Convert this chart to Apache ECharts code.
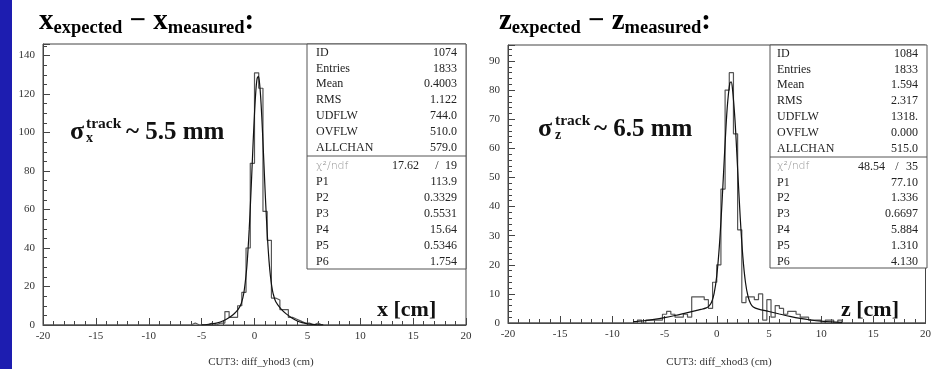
<!DOCTYPE html>
<html><head><meta charset="utf-8">
<script src="https://cdn.jsdelivr.net/npm/echarts@6/dist/echarts.min.js"></script>
<style>html,body{margin:0;padding:0;background:#fff}#c{width:934px;height:369px}</style>
</head><body><div id="c"></div>
<script>
// ---------------- data ----------------
// histogram bins: 100 bins of 0.4 cm from -20 to 20 (lower edges)
const binEdges = Array.from({length: 101}, (_, i) => +(-20 + 0.4 * i).toFixed(1));
const countsX = [
  0,0,0,0,0,0,0,0,0,0,
  0,0,0,0,0,0,0,0,0,0,
  0,0,0,0,0,0,0,0,0,0,
  0,0,0,0,0,1,0,0,0,1,
  0,1,1,7,4,4,10,17,40,84,
  131,123,59,44,14,13,8,8,4,3,
  2,1,1,0,1,0,0,0,0,0,
  0,0,0,0,0,0,0,0,0,0,
  0,0,0,0,0,0,0,0,0,0,
  0,0,0,0,0,0,0,0,0,0
];
const countsZ = [
  0,0,0,0,0,0,0,0,0,0,
  0,0,0,0,0,0,0,0,0,0,
  0,0,0,0,0,0,0,0,0,0,
  0,1,0,1,1,1,1,3,4,3,
  2,2,3,2,9,9,9,8,5,14,
  20,46,80,86,65,32,7,9,9,8,
  10,1,8,2,6,5,3,4,4,3,
  2,2,1,1,1,0,1,1,0,1,
  0,0,0,0,0,0,0,0,0,0,
  0,0,0,0,0,0,0,0,0,0
];
// fitted curves
const fitXx = [-5,-4.5,-4,-3.5,-3,-2.5,-2,-1.75,-1.5,-1.25,-1,-0.75,-0.625,-0.5,-0.375,-0.25,-0.125,0,0.125,0.25,0.375,0.5,0.625,0.75,0.875,1,1.125,1.25,1.375,1.5,1.625,1.75,2,2.5,3,3.5,4,4.5,5,5.5,6,6.5];
const fitXy = [0.11,0.25,0.55,1.11,2.05,3.5,5.5,6.8,8.5,11.2,16.9,28.7,38.0,49.8,63.9,79.5,95.4,109.9,121.4,128.1,129.2,124.4,114.7,101.2,85.9,70.1,55.7,43.2,33.2,25.7,20.3,16.6,12.2,8.4,5.8,3.8,2.2,1.2,0.6,0.28,0.12,0.05];
const fitZx = [-8,-7,-6,-5,-4,-3,-2,-1.5,-1,-0.75,-0.5,-0.25,0,0.25,0.5,0.75,1,1.25,1.375,1.5,1.75,2,2.25,2.5,2.75,3,3.25,3.5,4,5,6,7,8,9,10,11,12];
const fitZy = [0.46,0.78,1.23,1.83,2.57,3.41,4.27,4.67,5.2,5.8,7.1,10.2,16.2,26.4,41.1,58.4,73.8,82.4,82.8,80.7,69.6,53.0,36.2,22.8,14.0,9.1,6.6,5.5,4.76,3.95,3.09,2.28,1.58,1.04,0.64,0.38,0.21];
// statistics boxes
const statsX = [['ID','1074'],['Entries','1833'],['Mean','0.4003'],['RMS','1.122'],['UDFLW','744.0'],['OVFLW','510.0'],['ALLCHAN','579.0']];
const chiX = ['17.62','19'];
const parsX = [['P1','113.9'],['P2','0.3329'],['P3','0.5531'],['P4','15.64'],['P5','0.5346'],['P6','1.754']];
const statsZ = [['ID','1084'],['Entries','1833'],['Mean','1.594'],['RMS','2.317'],['UDFLW','1318.'],['OVFLW','0.000'],['ALLCHAN','515.0']];
const chiZ = ['48.54','35'];
const parsZ = [['P1','77.10'],['P2','1.336'],['P3','0.6697'],['P4','5.884'],['P5','1.310'],['P6','4.130']];
const xTicks = {min: -20, max: 20, step: 5};
const yTicksX = {min: 0, max: 146, step: 20};
const yTicksZ = {min: 0, max: 95.5, step: 10};

// ---------------- helpers ----------------
const SERIF = '"Liberation Serif","DejaVu Serif",serif';
function histData(counts) {
  const d = binEdges.slice(0, -1).map((e, i) => [e, counts[i]]);
  d.push([binEdges[binEdges.length - 1], counts[counts.length - 1]]);
  return d;
}
function zip(a, b) { return a.map((v, i) => [v, b[i]]); }

function xAxisCfg(gi) {
  return {
    type: 'value', gridIndex: gi, min: xTicks.min, max: xTicks.max, interval: xTicks.step,
    axisLine: {show: true, onZero: false, lineStyle: {color: '#444', width: 1}},
    axisTick: {show: true, inside: true, length: 7, lineStyle: {color: '#444'}},
    minorTick: {show: true, splitNumber: 5, length: 4, lineStyle: {color: '#444'}},
    splitLine: {show: false},
    axisLabel: {fontFamily: SERIF, fontSize: 11, color: '#333', margin: 6}
  };
}
function yAxisCfg(gi, t, minorSplit) {
  return {
    type: 'value', gridIndex: gi, min: t.min, max: t.max, interval: t.step,
    axisLine: {show: true, onZero: false, lineStyle: {color: '#444', width: 1}},
    axisTick: {show: true, inside: true, length: 7, lineStyle: {color: '#444'}},
    minorTick: {show: true, splitNumber: minorSplit, length: 4, lineStyle: {color: '#444'}},
    splitLine: {show: false},
    axisLabel: {fontFamily: SERIF, fontSize: 11, color: '#333', margin: 8,
      formatter: v => (Math.abs(v / t.step - Math.round(v / t.step)) < 1e-6 ? String(v) : '')}
  };
}
function statsBox(x0, x1, y0, y1, yDiv, labelX, valX, chiValX, slashX, rowY0, rowY1, stats, chi, pars) {
  const els = [];
  els.push({type: 'rect', shape: {x: x0, y: y0, width: x1 - x0, height: y1 - y0},
    style: {fill: '#fff', stroke: '#555', lineWidth: 1}, z: 10});
  els.push({type: 'line', shape: {x1: x0, y1: yDiv, x2: x1, y2: yDiv}, style: {stroke: '#555', lineWidth: 1}, z: 11});
  const ts = (t, x, y, align, extra) => Object.assign({type: 'text', x: x, y: y, z: 12,
    style: Object.assign({text: t, fontFamily: SERIF, fontSize: 12, fill: '#222', align: align, verticalAlign: 'middle'}, extra || {})});
  stats.forEach((r, i) => {
    const y = rowY0 + 15.9 * i;
    els.push(ts(r[0], labelX, y, 'left'));
    els.push(ts(r[1], valX, y, 'right'));
  });
  els.push(ts('χ²/ndf', labelX, rowY1, 'left', {fill: '#999', fontFamily: '"DejaVu Sans",sans-serif', fontSize: 11, fontWeight: 300}));
  els.push(ts(chi[0], chiValX, rowY1, 'right'));
  els.push(ts('/', slashX, rowY1, 'center'));
  els.push(ts(chi[1], valX, rowY1, 'right'));
  pars.forEach((r, i) => {
    const y = rowY1 + 15.9 * (i + 1);
    els.push(ts(r[0], labelX, y, 'left'));
    els.push(ts(r[1], valX, y, 'right'));
  });
  return els;
}
function txt(t, x, y, size, opts) {
  return Object.assign({type: 'text', x: x, y: y, z: 20,
    style: Object.assign({text: t, fontFamily: SERIF, fontSize: size, fontWeight: 'bold', fill: '#111', align: 'left', verticalAlign: 'middle'}, opts || {})});
}
const titleRich = {
  m: {fontFamily: SERIF, fontSize: 29, fontWeight: 'bold', color: '#111', lineHeight: 32},
  s: {fontFamily: SERIF, fontSize: 18.5, fontWeight: 'bold', color: '#111', lineHeight: 20, verticalAlign: 'bottom'}
};

const graphics = [
  {type: 'rect', shape: {x: 0, y: 0, width: 12, height: 369}, style: {fill: '#1d1db0'}, z: 30},
  {type: 'text', x: 39, y: 22, z: 20, style: {text: '{m|x}{s|expected}{m| − x}{s|measured}{m|:}', rich: titleRich, verticalAlign: 'middle'}},
  {type: 'text', x: 499, y: 22, z: 20, style: {text: '{m|z}{s|expected}{m| − z}{s|measured}{m|:}', rich: titleRich, verticalAlign: 'middle'}},
  // sigma annotations
  txt('σ', 70, 132, 26),
  txt('x', 86, 138, 14),
  txt('track', 86, 124, 15.5),
  txt('~ 5.5 mm', 126, 133, 25),
  txt('σ', 538, 129, 26),
  txt('z', 555, 135, 14),
  txt('track', 555, 121, 15.5),
  txt('~ 6.5 mm', 594, 130, 25),
  // axis titles
  txt('x [cm]', 377, 310, 22),
  txt('z [cm]', 841, 310, 22),
  // captions
  txt('CUT3: diff_yhod3 (cm)', 261, 362, 11, {fontWeight: 'normal', align: 'center', fill: '#333'}),
  txt('CUT3: diff_xhod3 (cm)', 719, 362, 11, {fontWeight: 'normal', align: 'center', fill: '#333'})
].concat(
  statsBox(307, 466, 44, 269, 156, 316, 457, 419, 437, 52.5, 166, statsX, chiX, parsX),
  statsBox(770, 927, 45, 268, 157, 777, 918, 885, 897, 53.5, 166.5, statsZ, chiZ, parsZ)
);

const chart = echarts.init(document.getElementById('c'), null, {renderer: 'canvas'});
chart.setOption({
  animation: false,
  backgroundColor: '#fff',
  grid: [
    {left: 43, top: 44, width: 423, height: 281, show: true, borderColor: '#444', borderWidth: 1, backgroundColor: 'transparent'},
    {left: 508, top: 45, width: 419, height: 278, show: true, borderColor: '#444', borderWidth: 1, backgroundColor: 'transparent'}
  ],
  xAxis: [xAxisCfg(0), xAxisCfg(1)],
  yAxis: [yAxisCfg(0, yTicksX, 4), yAxisCfg(1, yTicksZ, 5)],
  series: [
    {type: 'line', xAxisIndex: 0, yAxisIndex: 0, data: histData(countsX), step: 'end', showSymbol: false, symbol: 'none',
      lineStyle: {color: '#555', width: 1.2}, z: 3},
    {type: 'line', xAxisIndex: 0, yAxisIndex: 0, data: zip(fitXx, fitXy), smooth: 0.3, showSymbol: false, symbol: 'none',
      lineStyle: {color: '#111', width: 1.2}, z: 4},
    {type: 'line', xAxisIndex: 1, yAxisIndex: 1, data: histData(countsZ), step: 'end', showSymbol: false, symbol: 'none',
      lineStyle: {color: '#555', width: 1.2}, z: 3},
    {type: 'line', xAxisIndex: 1, yAxisIndex: 1, data: zip(fitZx, fitZy), smooth: 0.3, showSymbol: false, symbol: 'none',
      lineStyle: {color: '#111', width: 1.2}, z: 4}
  ],
  graphic: {elements: graphics}
});
</script></body></html>
